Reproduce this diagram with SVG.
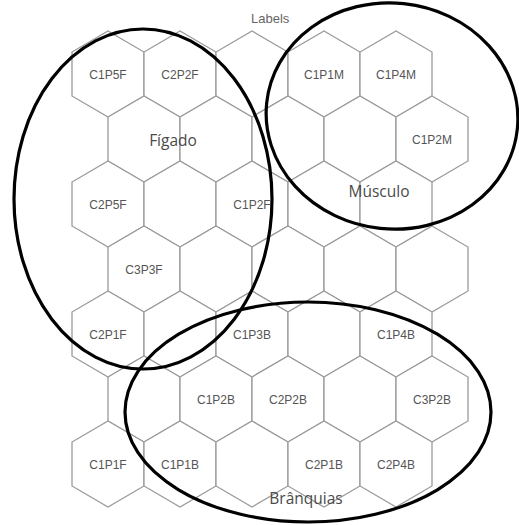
<svg xmlns="http://www.w3.org/2000/svg" xmlns:xlink="http://www.w3.org/1999/xlink" width="519" height="525" viewBox="0 0 519 525">
  <defs>
    <!-- pointy-top hexagon cell, centred on the origin -->
    <path id="hex" d="M0,-43 L36,-22 L36,22 L0,43 L-36,22 L-36,-22 Z"/>
    <style>
      .cell use { fill: #ffffff; stroke: #9a9a9a; stroke-width: 1.3; }
      .cell text { font-family: "Liberation Sans", Arial, sans-serif; font-size: 12px; fill: #555555; text-anchor: middle; }
      .title { font-family: "Liberation Sans", Arial, sans-serif; font-size: 13px; fill: #666666; }
      .zone { fill: none; stroke: #000000; stroke-width: 3.2; }
      .zone-label { font-family: "Open Sans", "DejaVu Sans", sans-serif; font-size: 15.5px; fill: #4a4a4a; text-anchor: middle; }
    </style>
  </defs>

  <rect width="519" height="525" fill="#ffffff"/>

  <text class="title" x="251" y="23">Labels</text>

  <!-- row 0 -->
  <g id="r0c108" class="cell"><use xlink:href="#hex" x="108" y="74"/><text x="108" y="79">C1P5F</text></g>
  <g id="r0c180" class="cell"><use xlink:href="#hex" x="180" y="74"/><text x="180" y="79">C2P2F</text></g>
  <g id="r0c252" class="cell"><use xlink:href="#hex" x="252" y="74"/></g>
  <g id="r0c324" class="cell"><use xlink:href="#hex" x="324" y="74"/><text x="324" y="79">C1P1M</text></g>
  <g id="r0c396" class="cell"><use xlink:href="#hex" x="396" y="74"/><text x="396" y="79">C1P4M</text></g>

  <!-- row 1 -->
  <g id="r1c144" class="cell"><use xlink:href="#hex" x="144" y="139"/></g>
  <g id="r1c216" class="cell"><use xlink:href="#hex" x="216" y="139"/></g>
  <g id="r1c288" class="cell"><use xlink:href="#hex" x="288" y="139"/></g>
  <g id="r1c360" class="cell"><use xlink:href="#hex" x="360" y="139"/></g>
  <g id="r1c432" class="cell"><use xlink:href="#hex" x="432" y="139"/><text x="432" y="144">C1P2M</text></g>

  <!-- row 2 -->
  <g id="r2c108" class="cell"><use xlink:href="#hex" x="108" y="204"/><text x="108" y="209">C2P5F</text></g>
  <g id="r2c180" class="cell"><use xlink:href="#hex" x="180" y="204"/></g>
  <g id="r2c252" class="cell"><use xlink:href="#hex" x="252" y="204"/><text x="252" y="209">C1P2F</text></g>
  <g id="r2c324" class="cell"><use xlink:href="#hex" x="324" y="204"/></g>
  <g id="r2c396" class="cell"><use xlink:href="#hex" x="396" y="204"/></g>

  <!-- row 3 -->
  <g id="r3c144" class="cell"><use xlink:href="#hex" x="144" y="269"/><text x="144" y="274">C3P3F</text></g>
  <g id="r3c216" class="cell"><use xlink:href="#hex" x="216" y="269"/></g>
  <g id="r3c288" class="cell"><use xlink:href="#hex" x="288" y="269"/></g>
  <g id="r3c360" class="cell"><use xlink:href="#hex" x="360" y="269"/></g>
  <g id="r3c432" class="cell"><use xlink:href="#hex" x="432" y="269"/></g>

  <!-- row 4 -->
  <g id="r4c108" class="cell"><use xlink:href="#hex" x="108" y="334"/><text x="108" y="339">C2P1F</text></g>
  <g id="r4c180" class="cell"><use xlink:href="#hex" x="180" y="334"/></g>
  <g id="r4c252" class="cell"><use xlink:href="#hex" x="252" y="334"/><text x="252" y="339">C1P3B</text></g>
  <g id="r4c324" class="cell"><use xlink:href="#hex" x="324" y="334"/></g>
  <g id="r4c396" class="cell"><use xlink:href="#hex" x="396" y="334"/><text x="396" y="339">C1P4B</text></g>

  <!-- row 5 -->
  <g id="r5c144" class="cell"><use xlink:href="#hex" x="144" y="399"/></g>
  <g id="r5c216" class="cell"><use xlink:href="#hex" x="216" y="399"/><text x="216" y="404">C1P2B</text></g>
  <g id="r5c288" class="cell"><use xlink:href="#hex" x="288" y="399"/><text x="288" y="404">C2P2B</text></g>
  <g id="r5c360" class="cell"><use xlink:href="#hex" x="360" y="399"/></g>
  <g id="r5c432" class="cell"><use xlink:href="#hex" x="432" y="399"/><text x="432" y="404">C3P2B</text></g>

  <!-- row 6 -->
  <g id="r6c108" class="cell"><use xlink:href="#hex" x="108" y="464"/><text x="108" y="469">C1P1F</text></g>
  <g id="r6c180" class="cell"><use xlink:href="#hex" x="180" y="464"/><text x="180" y="469">C1P1B</text></g>
  <g id="r6c252" class="cell"><use xlink:href="#hex" x="252" y="464"/></g>
  <g id="r6c324" class="cell"><use xlink:href="#hex" x="324" y="464"/><text x="324" y="469">C2P1B</text></g>
  <g id="r6c396" class="cell"><use xlink:href="#hex" x="396" y="464"/><text x="396" y="469">C2P4B</text></g>

  <!-- tissue groupings drawn as free-hand ellipses -->
  <g id="zones">
    <ellipse class="zone" cx="143" cy="199" rx="129" ry="170"/>
    <ellipse class="zone" cx="392" cy="116" rx="126" ry="113" transform="rotate(6 392 116)"/>
    <ellipse class="zone" cx="308" cy="412" rx="183" ry="110"/>
  </g>

  <g id="zone-labels">
    <text class="zone-label" x="173" y="146">Fígado</text>
    <text class="zone-label" x="379" y="197">Músculo</text>
    <text class="zone-label" x="306" y="504">Brânquias</text>
  </g>
</svg>
